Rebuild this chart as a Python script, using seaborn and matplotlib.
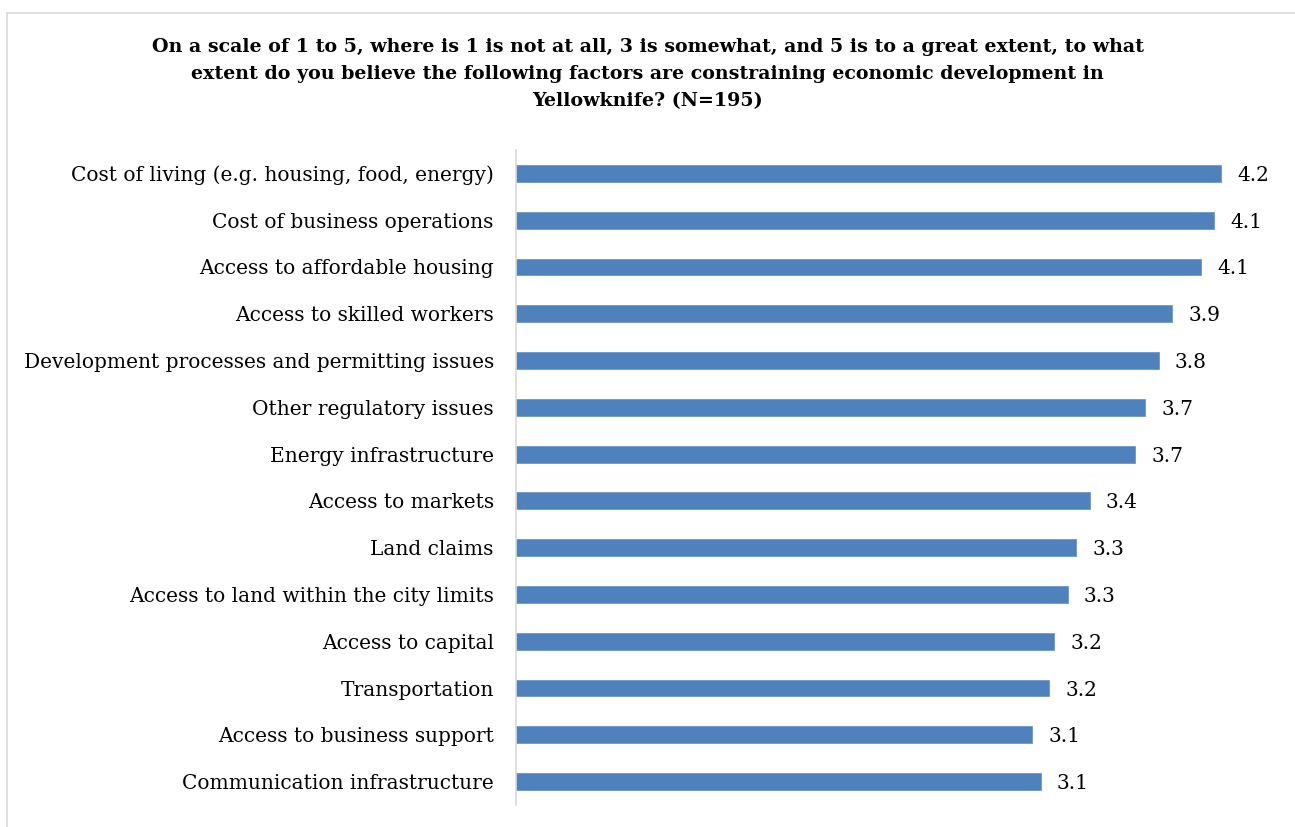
import matplotlib
matplotlib.use("Agg")
import matplotlib.pyplot as plt
from matplotlib.lines import Line2D
import seaborn as sns
import pandas as pd

factors = [
    "Cost of living (e.g. housing, food, energy)",
    "Cost of business operations",
    "Access to affordable housing",
    "Access to skilled workers",
    "Development processes and permitting issues",
    "Other regulatory issues",
    "Energy infrastructure",
    "Access to markets",
    "Land claims",
    "Access to land within the city limits",
    "Access to capital",
    "Transportation",
    "Access to business support",
    "Communication infrastructure",
]
scores = [4.18, 4.14, 4.06, 3.89, 3.81, 3.73, 3.67, 3.40, 3.32, 3.27, 3.19, 3.16, 3.06, 3.11]

df = pd.DataFrame({"Factor": factors, "Score": scores})

sns.set_theme(style="white")
plt.rcParams["font.family"] = ["DejaVu Serif"]
plt.rcParams["text.color"] = "black"

W, H = 1295, 827
fig = plt.figure(figsize=(W / 100, H / 100), dpi=100)

# axes placed in pixel terms: x origin at 516, 168.7 px per unit
xmax = 4.6
px_per_unit = 168.7
left, right = 516, 516 + xmax * px_per_unit
top, bottom = 150, 805
ax = fig.add_axes([left / W, 1 - bottom / H, (right - left) / W, (bottom - top) / H])

sns.barplot(data=df, x="Score", y="Factor", orient="h", color="#4F81BD",
            saturation=1, width=0.36, edgecolor="#6F96CB", linewidth=0.6, ax=ax)

ax.set_xlim(0, xmax)
ax.set_ylim(len(factors) - 0.5, -0.5)
ax.set_xlabel("")
ax.set_ylabel("")
ax.set_xticks([])
ax.tick_params(axis="y", length=0, pad=16, labelsize=14.5, labelcolor="black")
for s in ["top", "right", "bottom"]:
    ax.spines[s].set_visible(False)
ax.spines["left"].set_color("#D9D9D9")
ax.spines["left"].set_linewidth(1.2)

for i, v in enumerate(scores):
    ax.text(v + 16 / px_per_unit, i, f"{v:.1f}", va="center_baseline", ha="left",
            fontsize=14.5, color="black")

fig.text(0.5, 1 - 74 / H,
         "On a scale of 1 to 5, where is 1 is not at all, 3 is somewhat, and 5 is to a great extent, to what\n"
         "extent do you believe the following factors are constraining economic development in\n"
         "Yellowknife? (N=195)",
         ha="center", va="center", fontsize=13.7, fontweight="bold", linespacing=1.64)

# outer chart border (top and left edges visible)
fig.add_artist(Line2D([7 / W, 1], [1 - 12.5 / H, 1 - 12.5 / H], color="#D9D9D9", lw=1.2))
fig.add_artist(Line2D([7 / W, 7 / W], [0, 1 - 12.5 / H], color="#D9D9D9", lw=1.2))

fig.savefig("out.png", dpi=100, facecolor="white")
